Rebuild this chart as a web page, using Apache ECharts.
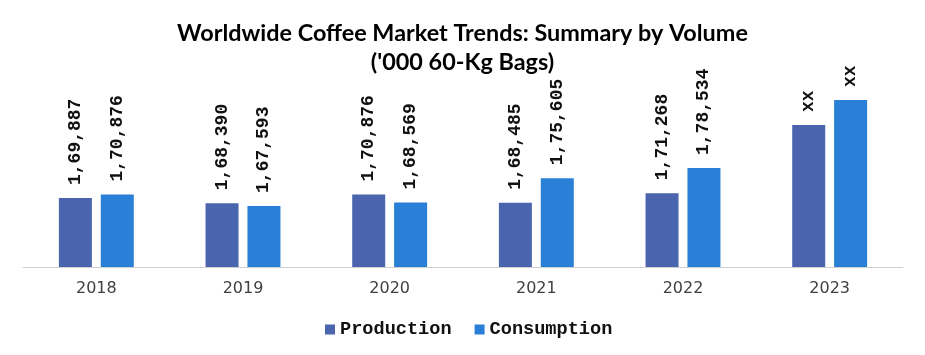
<!DOCTYPE html>
<html><head><meta charset="utf-8">
<script src="https://cdn.jsdelivr.net/npm/echarts@6/dist/echarts.min.js"></script>
<style>html,body{margin:0;padding:0;background:#fff}#c{width:925px;height:355px}</style>
</head><body><div id="c"></div>
<script>
const categories = ['2018','2019','2020','2021','2022','2023'];
const production = [169887, 168390, 170876, 168485, 171268, 190900];
const consumption = [170876, 167593, 168569, 175605, 178534, 198100];
const productionLabels = ['1,69,887','1,68,390','1,70,876','1,68,485','1,71,268','xx'];
const consumptionLabels = ['1,70,876','1,67,593','1,68,569','1,75,605','1,78,534','xx'];

const labelStyle = (labels) => ({
  show: true, position: 'top', rotate: 90, align: 'left', verticalAlign: 'middle',
  distance: 13, fontFamily: 'Liberation Mono', fontWeight: 'bold', fontSize: 18, color: '#111',
  formatter: p => labels[p.dataIndex]
});

const chart = echarts.init(document.getElementById('c'), null, {renderer: 'canvas'});
chart.setOption({
  animation: false,
  title: {
    text: "Worldwide Coffee Market Trends: Summary by Volume\n('000 60-Kg Bags)",
    left: 'center', top: 14,
    textStyle: {fontFamily: 'Lato', fontWeight: 'bold', fontSize: 23.4, lineHeight: 29, color: '#000'}
  },
  legend: {
    bottom: 11, left: 320, itemWidth: 10, itemHeight: 10, itemGap: 23,
    icon: 'rect',
    textStyle: {fontFamily: 'Liberation Mono', fontWeight: 'bold', fontSize: 18.6, color: '#111'},
    data: ['Production', 'Consumption']
  },
  grid: {left: 23, right: 22, top: 93.5, bottom: 88},
  xAxis: {
    type: 'category', data: categories,
    axisTick: {show: false},
    axisLine: {lineStyle: {color: '#d0d0d0', width: 1}},
    axisLabel: {fontFamily: 'DejaVu Sans', fontSize: 16, color: '#404040', margin: 14}
  },
  yAxis: {type: 'value', min: 150000, max: 200000, show: false, splitLine: {show: false}},
  series: [
    {name: 'Production', type: 'bar', data: production, barWidth: 33, barGap: '27%',
     itemStyle: {color: '#4a65ae'}, label: labelStyle(productionLabels)},
    {name: 'Consumption', type: 'bar', data: consumption, barWidth: 33,
     itemStyle: {color: '#2a7fd6'}, label: labelStyle(consumptionLabels)}
  ]
});
</script></body></html>
